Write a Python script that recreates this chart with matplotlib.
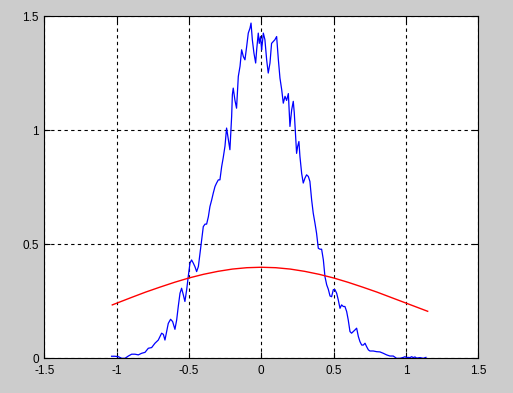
import matplotlib
matplotlib.use("Agg")
import matplotlib.pyplot as plt

blue_x = [-1.035, -1.012, -0.988, -0.965, -0.942, -0.919, -0.896, -0.873, -0.850, -0.827,
          -0.804, -0.781, -0.758, -0.735, -0.712, -0.689, -0.677, -0.666, -0.654, -0.643,
          -0.627, -0.613, -0.597, -0.585, -0.574, -0.562, -0.551, -0.539, -0.528, -0.516,
          -0.505, -0.493, -0.482, -0.470, -0.459, -0.447, -0.435, -0.424, -0.412, -0.401,
          -0.389, -0.378, -0.366, -0.355, -0.343, -0.332, -0.320, -0.309, -0.297, -0.286,
          -0.274, -0.263, -0.251, -0.240, -0.228, -0.217, -0.205, -0.200, -0.194, -0.182,
          -0.171, -0.159, -0.147, -0.136, -0.124, -0.113, -0.101, -0.090, -0.078, -0.071,
          -0.062, -0.051, -0.039, -0.032, -0.021, -0.014, -0.005, 0.002, 0.007, 0.014,
          0.025, 0.037, 0.048, 0.060, 0.071, 0.083, 0.094, 0.106, 0.118, 0.129,
          0.141, 0.152, 0.164, 0.175, 0.187, 0.198, 0.210, 0.221, 0.228, 0.235,
          0.244, 0.251, 0.260, 0.267, 0.279, 0.290, 0.302, 0.313, 0.325, 0.336,
          0.348, 0.359, 0.371, 0.382, 0.394, 0.406, 0.417, 0.429, 0.440, 0.452,
          0.463, 0.475, 0.486, 0.498, 0.509, 0.521, 0.532, 0.544, 0.555, 0.567,
          0.578, 0.590, 0.601, 0.613, 0.624, 0.636, 0.647, 0.659, 0.671, 0.682,
          0.694, 0.705, 0.717, 0.728, 0.740, 0.751, 0.774, 0.797, 0.820, 0.843,
          0.866, 0.889, 0.912, 0.935, 0.959, 0.982, 0.993, 1.005, 1.016, 1.028,
          1.039, 1.051, 1.062, 1.074, 1.097, 1.120, 1.138]
blue_y = [0.009, 0.009, 0.007, 0.000, 0.000, 0.010, 0.018, 0.018, 0.015, 0.022,
          0.026, 0.044, 0.047, 0.066, 0.080, 0.110, 0.105, 0.080, 0.117, 0.153,
          0.171, 0.161, 0.127, 0.168, 0.227, 0.285, 0.307, 0.278, 0.249, 0.300,
          0.358, 0.417, 0.431, 0.417, 0.402, 0.380, 0.402, 0.460, 0.520, 0.577,
          0.588, 0.588, 0.620, 0.665, 0.694, 0.724, 0.753, 0.768, 0.782, 0.782,
          0.840, 0.880, 0.930, 1.009, 0.960, 0.914, 1.060, 1.155, 1.184, 1.130,
          1.096, 1.235, 1.280, 1.352, 1.322, 1.308, 1.367, 1.425, 1.447, 1.469,
          1.396, 1.338, 1.294, 1.352, 1.425, 1.380, 1.410, 1.352, 1.380, 1.425,
          1.396, 1.308, 1.250, 1.294, 1.380, 1.388, 1.396, 1.410, 1.308, 1.228,
          1.177, 1.118, 1.148, 1.130, 1.160, 1.016, 1.089, 1.126, 1.075, 1.001,
          0.898, 0.928, 0.950, 0.885, 0.810, 0.768, 0.790, 0.804, 0.797, 0.775,
          0.694, 0.636, 0.592, 0.548, 0.482, 0.478, 0.478, 0.431, 0.358, 0.322,
          0.303, 0.273, 0.270, 0.301, 0.301, 0.285, 0.256, 0.219, 0.234, 0.227,
          0.227, 0.205, 0.168, 0.117, 0.110, 0.117, 0.124, 0.132, 0.095, 0.073,
          0.058, 0.058, 0.066, 0.051, 0.037, 0.032, 0.032, 0.029, 0.028, 0.022,
          0.015, 0.010, 0.010, 0.000, 0.000, 0.004, 0.007, 0.003, 0.004, 0.003,
          0.007, 0.003, 0.006, 0.001, 0.003, 0.000, 0.004]

red_x = [-1.03, -0.9, -0.8, -0.7, -0.6, -0.5, -0.4, -0.3, -0.2, -0.1, 0.0,
         0.1, 0.2, 0.3, 0.4, 0.5, 0.6, 0.7, 0.8, 0.9, 1.0, 1.1, 1.15]
red_y = [0.234, 0.266, 0.290, 0.312, 0.333, 0.352, 0.368, 0.381, 0.391, 0.397, 0.399,
         0.397, 0.391, 0.381, 0.368, 0.352, 0.333, 0.312, 0.290, 0.266, 0.242, 0.218, 0.206]

xticks = [-1.5, -1, -0.5, 0, 0.5, 1, 1.5]
xtick_labels = ["-1.5", "-1", "-0.5", "0", "0.5", "1", "1.5"]
yticks = [0, 0.5, 1, 1.5]
ytick_labels = ["0", "0.5", "1", "1.5"]

plt.rcParams['font.family'] = ['Liberation Sans', 'DejaVu Sans']
fig = plt.figure(figsize=(5.13, 3.93), dpi=100, facecolor='#cccccc')
ax = fig.add_axes([44.3/513, 1 - 358.3/393, 434/513, 342.3/393])
ax.set_facecolor('white')

ax.plot(blue_x, blue_y, color='#0000ff', lw=0.9)
ax.plot(red_x, red_y, color='#ff0000', lw=1.0)

ax.set_xlim(-1.5, 1.5)
ax.set_ylim(0, 1.5)
ax.set_xticks(xticks)
ax.set_xticklabels(xtick_labels)
ax.set_yticks(yticks)
ax.set_yticklabels(ytick_labels)
ax.grid(True, color='black', linestyle=(0, (3, 3)), linewidth=0.8)
ax.tick_params(direction='in', length=4, width=0.8, top=True, right=True,
               labelsize=8.5, colors='black')
ax.tick_params(axis='x', pad=5)
ax.tick_params(axis='y', pad=4)
for s in ax.spines.values():
    s.set_linewidth(0.8)
    s.set_color('black')

fig.savefig('out.png', dpi=100, facecolor=fig.get_facecolor())
